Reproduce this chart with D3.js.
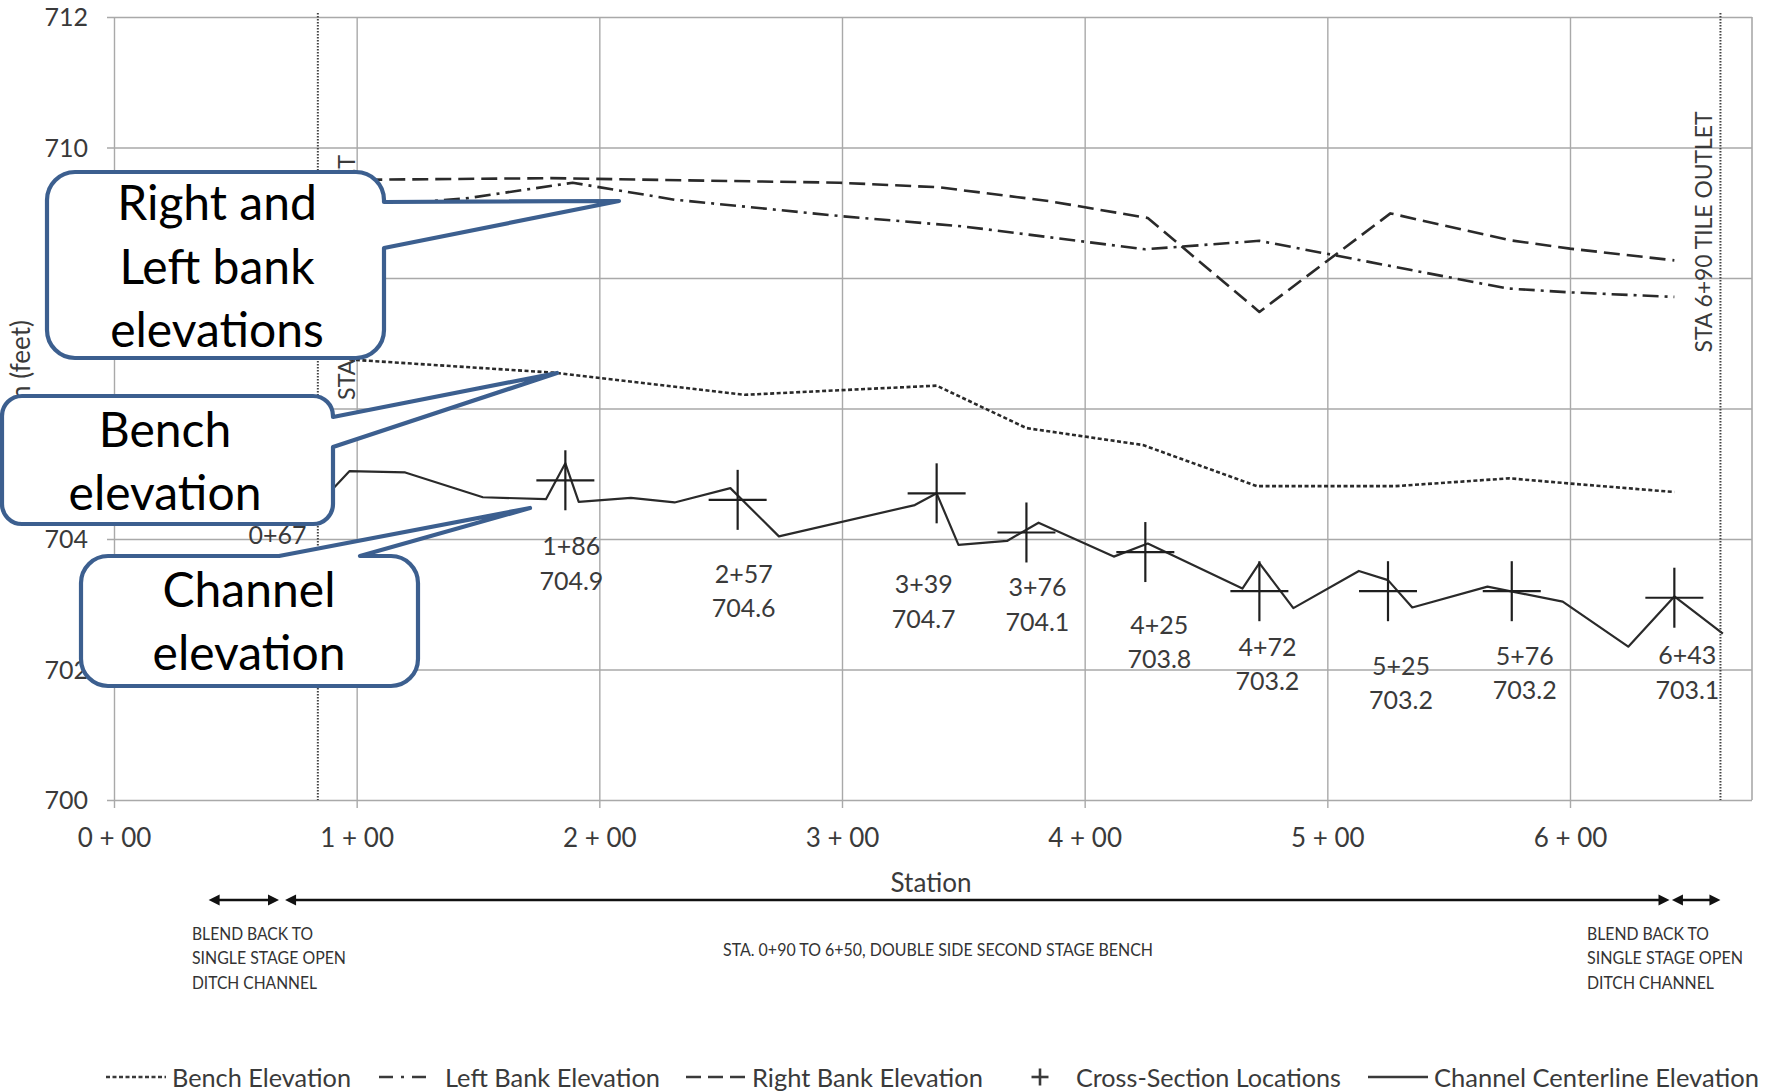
<!DOCTYPE html>
<html>
<head>
<meta charset="utf-8">
<script src="https://cdn.jsdelivr.net/npm/d3@7"></script>
<style>
  html, body { margin: 0; padding: 0; background: #fff; }
  svg { display: block; font-family: Lato, "Open Sans", sans-serif; }
</style>
</head>
<body>
<svg id="chart" width="1771" height="1092"></svg>
<script>
// ---- Profile data: [station (ft), elevation (ft)] ----
const benchElevation = [
  [97, 706.75], [181, 706.55], [260, 706.21], [299, 706.28], [339, 706.35],
  [376, 705.70], [424, 705.44], [471, 704.81], [528, 704.81], [575, 704.93],
  [600, 704.85], [643, 704.72]
];
const leftBankElevation = [
  [85, 709.05], [145, 709.22], [189, 709.46], [231, 709.20], [299, 708.95],
  [350, 708.79], [425, 708.44], [472, 708.57], [574, 707.84], [600, 707.78],
  [643, 707.71]
];
const rightBankElevation = [
  [85, 709.50], [180, 709.53], [299, 709.46], [340, 709.39], [385, 709.18],
  [426, 708.92], [472, 707.48], [526, 708.99], [575, 708.58], [600, 708.45],
  [643, 708.27]
];
const channelCenterline = [
  [85, 704.57], [91, 704.80], [97, 705.04], [120, 705.02], [152, 704.64],
  [178, 704.61], [186, 705.16], [191.5, 704.57], [213, 704.63], [231, 704.56],
  [254, 704.78], [274, 704.04], [330, 704.52], [339, 704.70], [348, 703.91],
  [368, 703.97], [381, 704.25], [412, 703.73], [426, 703.93], [465, 703.24],
  [472, 703.63], [486, 702.94], [513, 703.51], [525, 703.37], [535, 702.95],
  [566, 703.27], [597, 703.04], [624, 702.35], [643, 703.12], [663, 702.55]
];
const crossSectionStations   = [67, 186, 257, 339, 376, 425, 472, 525, 576, 643];
const crossSectionElevations = [705.0, 704.9, 704.6, 704.7, 704.1, 703.8, 703.2, 703.2, 703.2, 703.1];

const stationTicks   = [0, 100, 200, 300, 400, 500, 600];
const elevationTicks = [700, 702, 704, 706, 708, 710, 712];

const markerStations = [84, 662];                 // tile inlet / outlet reference lines
const markerLabels   = ["STA 0+85 TILE OUTLET", "STA 6+90 TILE OUTLET"];
const spanStations   = [[39, 68], [70.5, 641], [642, 662]];
const legendLabels   = ["Bench Elevation", "Left Bank Elevation", "Right Bank Elevation",
                        "Cross-Section Locations", "Channel Centerline Elevation"];

// ---- Layout ----
const svg = d3.select("#chart");
const L = 114, R = 1752, T = 17, B = 800;
const x = d3.scaleLinear().domain([0, 675]).range([L, R]);
const y = d3.scaleLinear().domain([700, 712]).range([B, T]);

const gridColor = "#a9a9a9";
const ink = "#2a2a2a";
const textColor = "#3a3a3a";

const fmtStation = s => `${Math.floor(s / 100)}+${String(s % 100).padStart(2, "0")}`;

// ---- Axes and grid ----
const yAxis = svg.append("g").attr("transform", `translate(${L},0)`)
  .call(d3.axisLeft(y).tickValues(elevationTicks).tickSizeInner(-(R - L)).tickSizeOuter(0).tickPadding(26));
yAxis.select(".domain").remove();
yAxis.selectAll("line").attr("x1", -7).attr("stroke", gridColor).attr("stroke-width", 1.4);
yAxis.selectAll("text").attr("font-size", 25).attr("fill", textColor).attr("dy", "0.35em")
  .attr("font-family", "Lato, sans-serif");

const xAxis = svg.append("g").attr("transform", `translate(0,${B})`)
  .call(d3.axisBottom(x).tickValues(stationTicks).tickSizeInner(-(B - T)).tickSizeOuter(0)
    .tickFormat(v => `${v / 100} + 00`));
xAxis.select(".domain").remove();
xAxis.selectAll("line").attr("y1", 8).attr("stroke", gridColor).attr("stroke-width", 1.4);
xAxis.selectAll("text").attr("y", 38).attr("dy", "0.35em").attr("font-size", 26)
  .attr("fill", textColor).attr("font-family", "Lato, sans-serif");

// right frame edge
svg.append("line").attr("x1", R).attr("x2", R).attr("y1", T).attr("y2", B)
  .attr("stroke", gridColor).attr("stroke-width", 1.6);

// axis titles
svg.append("text").attr("x", 931).attr("y", 892).attr("text-anchor", "middle")
  .attr("font-size", 26).attr("fill", textColor).text("Station");
svg.append("text").attr("transform", `translate(30,320) rotate(-90)`).attr("text-anchor", "end")
  .attr("font-size", 26).attr("fill", textColor).text("Elevation (feet)");

// ---- Reference station lines ----
svg.selectAll(".marker").data(markerStations).join("line")
  .attr("x1", d => x(d)).attr("x2", d => x(d)).attr("y1", T - 4).attr("y2", B)
  .attr("stroke", "#444").attr("stroke-width", 2).attr("stroke-dasharray", "1.5,1.5");

const markerText = [
  { cx: 355, cy: 277.5, len: 245 },
  { cx: 1712, cy: 232, len: 241 }
];
svg.selectAll(".markerLabel").data(markerLabels).join("text")
  .attr("transform", (d, i) => `translate(${markerText[i].cx},${markerText[i].cy}) rotate(-90)`)
  .attr("text-anchor", "middle").attr("font-size", 23).attr("fill", textColor)
  .attr("textLength", (d, i) => markerText[i].len).attr("lengthAdjust", "spacingAndGlyphs")
  .text(d => d);

// ---- Series ----
const line = d3.line().x(d => x(d[0])).y(d => y(d[1]));
const series = [
  { data: benchElevation,     dash: "4,2.5",      w: 2.6 },
  { data: leftBankElevation,  dash: "16,6,3,6",   w: 2.6 },
  { data: rightBankElevation, dash: "16,7",       w: 2.6 },
  { data: channelCenterline,  dash: null,         w: 2.2 }
];
svg.selectAll(".series").data(series).join("path")
  .attr("d", d => line(d.data)).attr("fill", "none").attr("stroke", ink)
  .attr("stroke-width", d => d.w).attr("stroke-dasharray", d => d.dash)
  .attr("stroke-linejoin", "round");

// ---- Cross-section markers and labels ----
const xs = crossSectionStations.map((s, i) => ({ s, e: crossSectionElevations[i], i }));
const crossG = svg.append("g").attr("stroke", "#1f1f1f").attr("stroke-width", 2.2);
crossG.selectAll(".v").data(xs).join("line")
  .attr("x1", d => x(d.s)).attr("x2", d => x(d.s))
  .attr("y1", d => y(d.e) - 30).attr("y2", d => y(d.e) + 30);
crossG.selectAll(".h").data(xs).join("line")
  .attr("x1", d => x(d.s) - 29).attr("x2", d => x(d.s) + 29)
  .attr("y1", d => y(d.e)).attr("y2", d => y(d.e));

// label offsets from each marker (px)
const labelDx = [1, 6, 6, -13, 11, 14, 8, 13, 13, 13];
const labelDy = [61, 66, 74, 91, 55, 73, 56, 75, 65, 58];
const lab = svg.append("g").attr("font-size", 25).attr("fill", textColor).attr("text-anchor", "middle");
lab.selectAll(".sta").data(xs).join("text")
  .attr("x", d => x(d.s) + labelDx[d.i]).attr("y", d => y(d.e) + labelDy[d.i])
  .attr("dy", "0.35em").text(d => fmtStation(d.s));
// the first section's elevation would sit beneath the channel callout, so it is left out
lab.selectAll(".elev").data(xs.slice(1)).join("text")
  .attr("x", d => x(d.s) + labelDx[d.i]).attr("y", d => y(d.e) + labelDy[d.i] + 34.5)
  .attr("dy", "0.35em").text(d => d.e.toFixed(1));

// ---- Construction spans below the axis ----
const arrowY = 900;
const spanG = svg.append("g");
spanStations.forEach(([a, b]) => {
  const xa = x(a), xb = x(b);
  spanG.append("line").attr("x1", xa + 6).attr("x2", xb - 6).attr("y1", arrowY).attr("y2", arrowY)
    .attr("stroke", "#111").attr("stroke-width", 2.6);
  spanG.append("path").attr("d", `M${xa},${arrowY} L${xa + 11},${arrowY - 5.5} L${xa + 11},${arrowY + 5.5} Z`).attr("fill", "#111");
  spanG.append("path").attr("d", `M${xb},${arrowY} L${xb - 11},${arrowY - 5.5} L${xb - 11},${arrowY + 5.5} Z`).attr("fill", "#111");
});

const notes = [
  { x: 192, y: 934, t: "BLEND BACK TO", len: 121 },
  { x: 192, y: 958, t: "SINGLE STAGE OPEN", len: 154 },
  { x: 192, y: 983, t: "DITCH CHANNEL", len: 125 },
  { x: 723, y: 950, t: "STA. 0+90 TO 6+50, DOUBLE SIDE SECOND STAGE BENCH", len: 430 },
  { x: 1587, y: 934, t: "BLEND BACK TO", len: 122 },
  { x: 1587, y: 958, t: "SINGLE STAGE OPEN", len: 156 },
  { x: 1587, y: 983, t: "DITCH CHANNEL", len: 127 }
];
svg.append("g").selectAll("text").data(notes).join("text")
  .attr("x", d => d.x).attr("y", d => d.y).attr("dy", "0.35em")
  .attr("font-size", 17).attr("fill", "#333")
  .attr("textLength", d => d.len).attr("lengthAdjust", "spacingAndGlyphs").text(d => d.t);

// ---- Legend ----
const legY = 1077;
const legG = svg.append("g").attr("stroke", "#3a3a3a").attr("stroke-width", 2.6).attr("fill", "none");
legG.append("line").attr("x1", 106).attr("x2", 166).attr("y1", legY).attr("y2", legY).attr("stroke-dasharray", "4,2.5");
legG.append("line").attr("x1", 379).attr("x2", 430).attr("y1", legY).attr("y2", legY).attr("stroke-dasharray", "14,8,3,8");
legG.append("line").attr("x1", 686).attr("x2", 746).attr("y1", legY).attr("y2", legY).attr("stroke-dasharray", "15,7");
legG.append("line").attr("x1", 1031.5).attr("x2", 1048.5).attr("y1", legY).attr("y2", legY);
legG.append("line").attr("x1", 1040).attr("x2", 1040).attr("y1", legY - 8.5).attr("y2", legY + 8.5);
legG.append("line").attr("x1", 1368).attr("x2", 1428).attr("y1", legY).attr("y2", legY);

const legText = [
  { x: 172, len: 179 }, { x: 445, len: 215 }, { x: 752, len: 231 },
  { x: 1076, len: 265 }, { x: 1434, len: 325 }
];
svg.append("g").selectAll("text").data(legendLabels).join("text")
  .attr("x", (d, i) => legText[i].x).attr("y", 1087).attr("font-size", 25).attr("fill", textColor)
  .attr("textLength", (d, i) => legText[i].len).attr("lengthAdjust", "spacingAndGlyphs").text(d => d);

// ---- Callouts ----
function calloutPath(b, w) {
  const { x0, y0, x1, y1, r } = b;
  const arc = (ex, ey) => `A${r},${r} 0 0 1 ${ex},${ey}`;
  if (w.side === "right") {
    return `M${x0 + r},${y0} H${x1 - r} ${arc(x1, y0 + r)} V${w.a} L${w.tx},${w.ty} L${x1},${w.b} ` +
      `V${y1 - r} ${arc(x1 - r, y1)} H${x0 + r} ${arc(x0, y1 - r)} V${y0 + r} ${arc(x0 + r, y0)} Z`;
  }
  return `M${x0 + r},${y0} H${w.a} L${w.tx},${w.ty} L${w.b},${y0} H${x1 - r} ${arc(x1, y0 + r)} ` +
    `V${y1 - r} ${arc(x1 - r, y1)} H${x0 + r} ${arc(x0, y1 - r)} V${y0 + r} ${arc(x0 + r, y0)} Z`;
}

const callouts = [
  { box: { x0: 47, y0: 172, x1: 384, y1: 358, r: 28 },
    wedge: { side: "right", a: 202, b: 248, tx: 619, ty: 201 },
    lines: ["Right and", "Left bank", "elevations"], cx: 217, base: [220, 283.5, 347] },
  { box: { x0: 2, y0: 396, x1: 333, y1: 524, r: 20 },
    wedge: { side: "right", a: 417, b: 447, tx: 557, ty: 373 },
    lines: ["Bench", "elevation"], cx: 165, base: [446.7, 510] },
  { box: { x0: 81, y0: 556, x1: 418, y1: 686, r: 27 },
    wedge: { side: "top", a: 279, b: 360, tx: 530, ty: 508 },
    lines: ["Channel", "elevation"], cx: 249, base: [606.7, 670] }
];
const cg = svg.append("g");
callouts.forEach(c => {
  cg.append("path").attr("d", calloutPath(c.box, c.wedge))
    .attr("fill", "#fff").attr("stroke", "#3c5f8f").attr("stroke-width", 4.2)
    .attr("stroke-linejoin", "round");
  c.lines.forEach((t, i) => {
    cg.append("text").attr("x", c.cx).attr("y", c.base[i]).attr("text-anchor", "middle")
      .attr("font-size", 48).attr("fill", "#000").text(t);
  });
});
</script>
</body>
</html>
